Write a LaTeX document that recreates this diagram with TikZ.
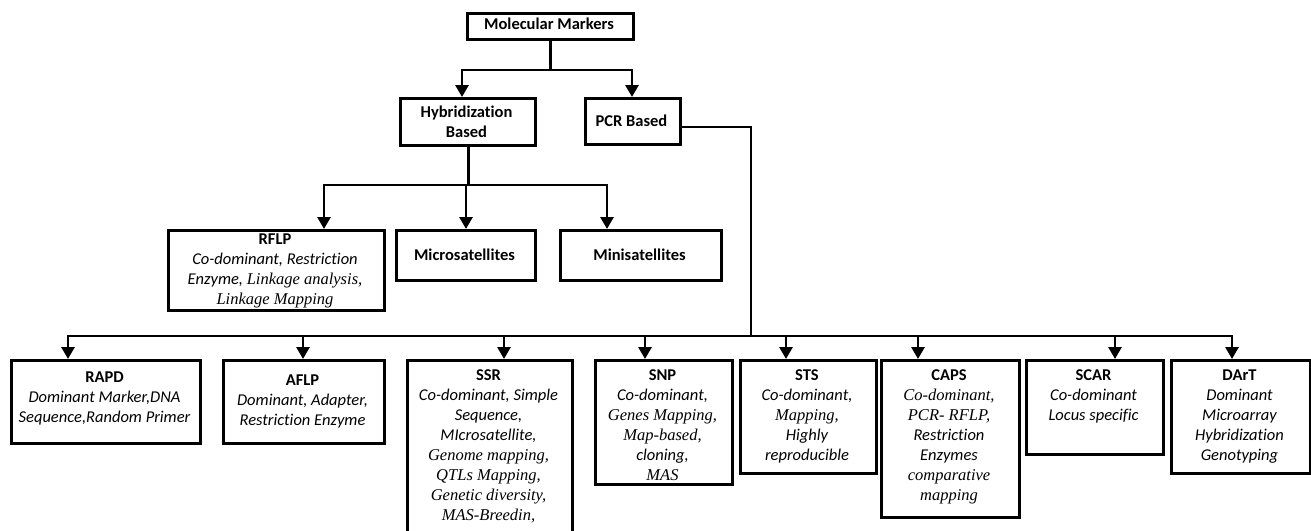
\documentclass[tikz,border=0pt]{standalone}
\usepackage{fontspec}
\setmainfont{Carlito}[Ligatures=NoCommon]
\newfontfamily\tms{Liberation Serif}
\usetikzlibrary{arrows.meta}
\newcommand{\fs}{\fontsize{16.5}{20}\selectfont}
\newcommand{\ti}[1]{{\tms\itshape #1}}
\newcommand{\ci}[1]{{\itshape #1}}
\newcommand{\lns}[1]{\parbox[t]{220pt}{\centering\fs #1}}
\begin{document}
\begin{tikzpicture}[x=1pt,y=-1pt,
  box/.style={draw, line width=3.2pt, inner sep=0pt, anchor=north west},
  txt/.style={anchor=base, inner sep=0pt},
  conn/.style={line width=2.9pt, line cap=rect},
  arr/.style={line width=2.9pt, -{Triangle[width=13pt,length=12pt]}}]
\useasboundingbox (0,0) rectangle (1311,530);
\clip (0,0) rectangle (1311,530);

% boxes
\node[box, minimum width=166pt, minimum height=26pt] (mm) at (466,12) {};
\node[box, minimum width=135pt, minimum height=47pt] (hyb) at (399,97) {};
\node[box, minimum width=95pt, minimum height=46pt] (pcr) at (584,97) {};
\node[box, minimum width=216pt, minimum height=80pt] (rflp) at (167,229) {};
\node[box, minimum width=139pt, minimum height=50pt] (micro) at (395,229) {};
\node[box, minimum width=161pt, minimum height=50pt] (mini) at (559,229) {};
\node[box, minimum width=189pt, minimum height=83pt] (rapd) at (10,359) {};
\node[box, minimum width=161pt, minimum height=83pt] (aflp) at (222,359) {};
\node[box, minimum width=165pt, minimum height=200pt] (ssr) at (406,359) {};
\node[box, minimum width=137pt, minimum height=124pt] (snp) at (594,359) {};
\node[box, minimum width=136pt, minimum height=113pt] (sts) at (739,359) {};
\node[box, minimum width=138pt, minimum height=157pt] (caps) at (880,359) {};
\node[box, minimum width=137pt, minimum height=94pt] (scar) at (1025,359) {};
\node[box, minimum width=139pt, minimum height=113pt] (dart) at (1170,359) {};

% texts
\node[txt] (mmT) at (549,29) {\lns{\bfseries Molecular Markers}};
\node[txt] (hybT) at (466.5,117) {\lns{\bfseries Hybridization\\Based}};
\node[txt] (pcrT) at (631.5,126) {\lns{\bfseries PCR Based}};
\node[txt] (rflpT) at (275,244) {\lns{\textbf{RFLP}\\\ci{Co-dominant, Restriction}\\\ci{Enzyme,} \ti{Linkage analysis,}\\\ti{Linkage Mapping}}};
\node[txt] (microT) at (464.5,260) {\lns{\bfseries Microsatellites}};
\node[txt] (miniT) at (639.5,260) {\lns{\bfseries Minisatellites}};
\node[txt] (rapdT) at (104.5,382) {\lns{\textbf{RAPD}\\\ci{Dominant Marker,DNA}\\\ci{Sequence,Random Primer}}};
\node[txt] (aflpT) at (302.5,385) {\lns{\textbf{AFLP}\\\ci{Dominant, Adapter,}\\\ci{Restriction Enzyme}}};
\node[txt] (ssrT) at (488.5,380) {\lns{\textbf{SSR}\\\ci{Co-dominant, Simple}\\\ci{Sequence,}\\\ci{MIcrosatellite,}\\\ti{Genome mapping,}\\\ti{QTLs Mapping,}\\\ti{Genetic diversity,}\\\ti{MAS-Breedin,}}};
\node[txt] (snpT) at (662.5,380) {\lns{\textbf{SNP}\\\ci{Co-dominant,}\\\ti{Genes Mapping,}\\\ti{Map-based,}\\\ci{cloning,}\\\ti{MAS}}};
\node[txt] (stsT) at (807,380) {\lns{\textbf{STS}\\\ci{Co-dominant,}\\\ti{Mapping,}\\\ci{Highly}\\\ci{reproducible}}};
\node[txt] (capsT) at (949,380) {\lns{\textbf{CAPS}\\\ti{Co-dominant,}\\\ti{PCR- RFLP,}\\\ci{Restriction}\\\ci{Enzymes}\\\ti{comparative}\\\ti{mapping}}};
\node[txt] (scarT) at (1093.5,380) {\lns{\textbf{SCAR}\\\ci{Co-dominant}\\\ci{Locus specific}}};
\node[txt] (dartT) at (1239.5,380) {\lns{\textbf{DArT}\\\ci{Dominant}\\\ci{Microarray}\\\ci{Hybridization}\\\ci{Genotyping}}};

% top connectors
\coordinate (t1) at (549,70);
\coordinate (tL) at (462,70);
\coordinate (tR) at (632,70);
\draw[conn] (mm.south) -- (mm.south |- t1);
\draw[conn] (tL) -- (tR);
\draw[arr] (tL) -- (tL |- hyb.north);
\draw[arr] (tR) -- (tR |- pcr.north);

% hybridization connectors
\coordinate (hb) at (466,185);
\coordinate (hL) at (324,185);
\coordinate (hR) at (607,185);
\draw[conn] (hyb.south) -- (hyb.south |- hb);
\draw[conn] (hL) -- (hR);
\draw[arr] (hL) -- (hL |- rflp.north);
\draw[arr] (hb) -- (hb |- micro.north);
\draw[arr] (hR) -- (hR |- mini.north);

% PCR connectors
\coordinate (pc) at (751,127);
\coordinate (pc2) at (751,336);
\draw[conn] (pcr.east |- pc) -- (pc) -- (pc2);
\coordinate (bL) at (68,336);
\coordinate (bR) at (1232,336);
\draw[conn] (bL) -- (bR);
\coordinate (b2) at (303,336);
\coordinate (b3) at (504,336);
\coordinate (b4) at (645,336);
\coordinate (b5) at (786,336);
\coordinate (b6) at (918,336);
\coordinate (b7) at (1115,336);
\draw[arr] (bL) -- (bL |- rapd.north);
\draw[arr] (b2) -- (b2 |- aflp.north);
\draw[arr] (b3) -- (b3 |- ssr.north);
\draw[arr] (b4) -- (b4 |- snp.north);
\draw[arr] (b5) -- (b5 |- sts.north);
\draw[arr] (b6) -- (b6 |- caps.north);
\draw[arr] (b7) -- (b7 |- scar.north);
\draw[arr] (bR) -- (bR |- dart.north);
\end{tikzpicture}
\end{document}
